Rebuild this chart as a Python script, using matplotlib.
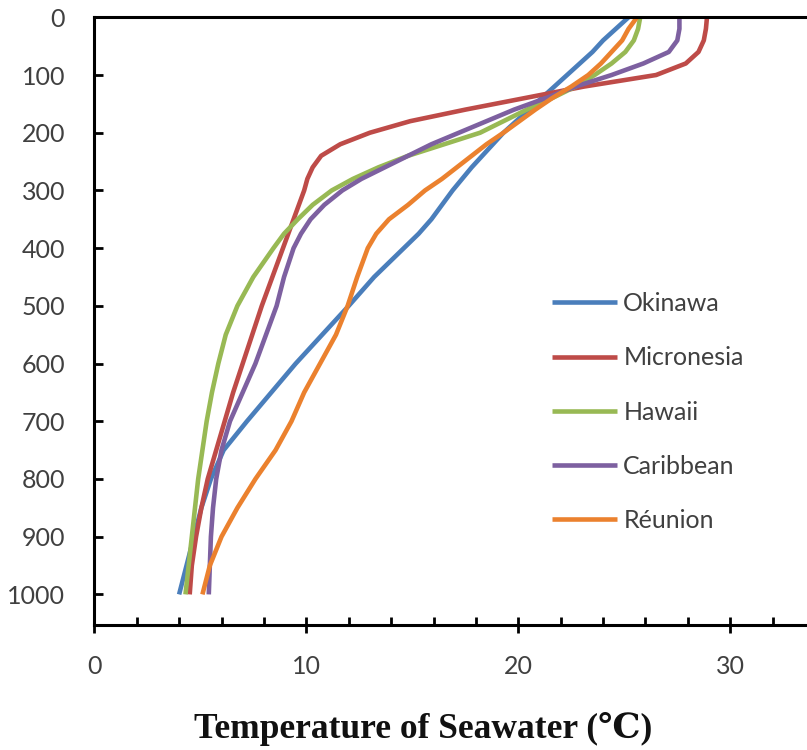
import matplotlib
matplotlib.use('Agg')
import matplotlib.pyplot as plt
from matplotlib.ticker import MultipleLocator

# Глубина, м
depth = [0, 20, 40, 60, 80, 100, 120, 140, 160, 180, 200, 220, 240, 260, 280, 300,
         325, 350, 375, 400, 450, 500, 550, 600, 650, 700, 750, 800, 850, 900, 950, 1000]

# Температура морской воды, °C
okinawa = [25.2, 24.6, 24.0, 23.5, 22.9, 22.3, 21.7, 21.1, 20.5, 19.9, 19.3, 18.8, 18.3, 17.8, 17.35, 16.9,
           16.4, 15.9, 15.3, 14.6, 13.2, 12.0, 10.75, 9.5, 8.35, 7.2, 6.1, 5.5, 5.05, 4.7, 4.35, 4.0]
micronesia = [28.9, 28.85, 28.75, 28.5, 27.9, 26.5, 23.1, 20.3, 17.5, 14.9, 13.0, 11.6, 10.7, 10.3, 10.05, 9.9,
              9.65, 9.4, 9.15, 8.9, 8.4, 7.9, 7.45, 7.0, 6.55, 6.15, 5.75, 5.35, 5.05, 4.8, 4.6, 4.5]
hawaii = [25.75, 25.65, 25.45, 25.05, 24.4, 23.6, 22.7, 21.6, 20.4, 19.3, 18.2, 16.5, 14.8, 13.4, 12.2, 11.2,
          10.3, 9.6, 8.95, 8.45, 7.5, 6.75, 6.2, 5.85, 5.55, 5.3, 5.1, 4.9, 4.75, 4.6, 4.45, 4.3]
caribbean = [27.6, 27.6, 27.5, 27.1, 25.9, 24.4, 22.7, 21.3, 19.8, 18.5, 17.2, 15.9, 14.8, 13.7, 12.6, 11.7,
             10.85, 10.2, 9.75, 9.4, 8.95, 8.6, 8.1, 7.6, 7.0, 6.4, 6.0, 5.75, 5.6, 5.5, 5.45, 5.4]
reunion = [25.6, 25.2, 24.9, 24.4, 23.9, 23.3, 22.5, 21.6, 20.8, 20.05, 19.3, 18.5, 17.8, 17.1, 16.4, 15.6,
           14.8, 13.9, 13.3, 12.9, 12.4, 11.95, 11.4, 10.65, 9.9, 9.3, 8.55, 7.6, 6.75, 6.0, 5.45, 5.1]

names = ['Okinawa', 'Micronesia', 'Hawaii', 'Caribbean', 'Réunion']
colors = ['#4A7EBB', '#BE4B48', '#98B954', '#7D60A0', '#EB812E']

fig = plt.figure(figsize=(8.07, 7.5), dpi=100)
ax = fig.add_axes([94.3 / 807, 1 - 625 / 750, 1 - 94.3 / 807, (625 - 17.3) / 750])

for temp, name, col in zip([okinawa, micronesia, hawaii, caribbean, reunion], names, colors):
    ax.plot(temp, depth, color=col, lw=3.3, label=name, solid_capstyle='butt', solid_joinstyle='round')

ax.set_xlim(0, (807 - 94.3) / 21.2)
ax.set_ylim(1053, 0)

# Оси и деления
ax.spines['right'].set_visible(False)
for s in ['left', 'top', 'bottom']:
    ax.spines[s].set_linewidth(2.2)
ax.xaxis.set_major_locator(MultipleLocator(10))
ax.xaxis.set_minor_locator(MultipleLocator(2))
ax.set_yticks(range(0, 1001, 100))
ax.tick_params(axis='x', which='major', direction='inout', length=11.5, width=2, pad=16,
               labelsize=18, labelcolor='#404040')
ax.tick_params(axis='x', which='minor', direction='in', length=6, width=2)
ax.tick_params(axis='y', direction='in', length=6.5, width=2, pad=21,
               labelsize=18, labelcolor='#404040')
for lab in ax.get_xticklabels() + ax.get_yticklabels():
    lab.set_family('Lato')

# Подпись оси x
fig.text(423 / 807, 1 - 738 / 750, 'Temperature of Seawater (℃)', family=['Liberation Serif', 'DejaVu Serif'],
         fontweight='bold', fontsize=25.5, color='#111111', ha='center', va='baseline')

leg = ax.legend(loc='upper left', bbox_to_anchor=(552 / 807, 1 - 292 / 750),
                bbox_transform=fig.transFigure, frameon=False, prop={'family': 'Lato', 'size': 18},
                handlelength=2.6, handletextpad=0.25, labelspacing=1.25, borderpad=0, borderaxespad=0)
for t in leg.get_texts():
    t.set_color('#404040')

fig.savefig('out.png', dpi=100)
